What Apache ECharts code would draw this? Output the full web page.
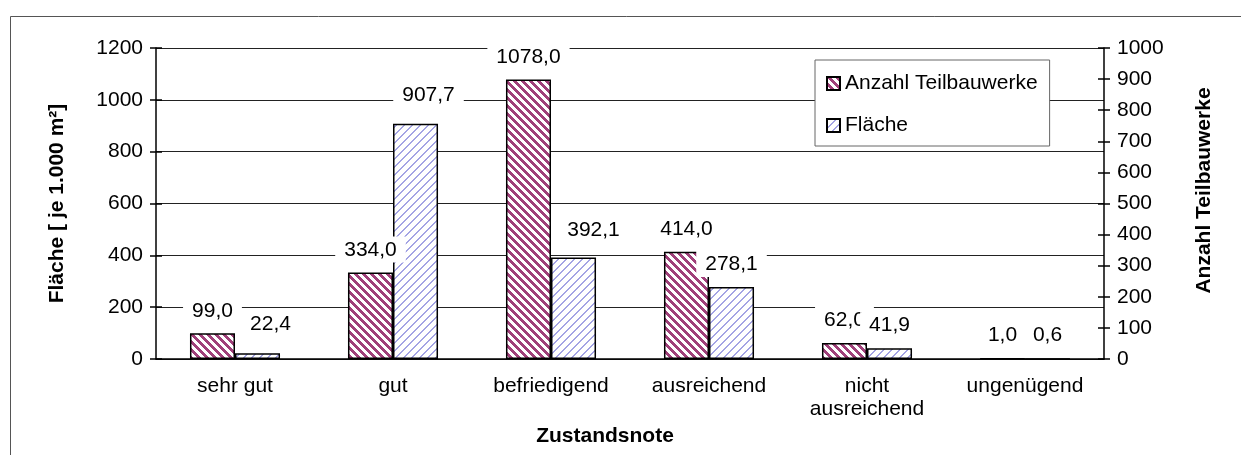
<!DOCTYPE html>
<html>
<head>
<meta charset="utf-8">
<script src="https://cdn.jsdelivr.net/npm/echarts@6/dist/echarts.min.js"></script>
<style>
  html, body { margin: 0; padding: 0; background: #fff; }
  #chart { width: 1241px; height: 455px; }
</style>
</head>
<body>
<div id="chart"></div>
<script>
// data
const categories = ['sehr gut', 'gut', 'befriedigend', 'ausreichend', 'nicht\nausreichend', 'ungenügend'];
const anzahl = [99.0, 334.0, 1078.0, 414.0, 62.0, 1.0];
const flaeche = [22.4, 907.7, 392.1, 278.1, 41.9, 0.6];
const leftTicks = { min: 0, max: 1200, interval: 200 };
const rightTicks = { min: 0, max: 1000, interval: 100 };

const FONT = '"Liberation Sans", Arial, sans-serif';
const FS = 21;

// diagonal hatch fill, drawn pixel by pixel so it stays crisp
function hatch(color, dir, on) {
  const c = document.createElement('canvas');
  c.width = 8; c.height = 8;
  const ctx = c.getContext('2d');
  const img = ctx.createImageData(8, 8);
  const rgb = [parseInt(color.slice(1, 3), 16), parseInt(color.slice(3, 5), 16), parseInt(color.slice(5, 7), 16)];
  for (let y = 0; y < 8; y++) {
    for (let x = 0; x < 8; x++) {
      const k = dir > 0 ? (x + y) % 8 : ((x - y) % 8 + 8) % 8;
      const p = (y * 8 + x) * 4;
      const col = k < on ? rgb : [255, 255, 255];
      img.data[p] = col[0]; img.data[p + 1] = col[1]; img.data[p + 2] = col[2]; img.data[p + 3] = 255;
    }
  }
  ctx.putImageData(img, 0, 0);
  return { image: c, repeat: 'repeat' };
}

const fmt = v => v.toFixed(1).replace('.', ',');

// a few labels were nudged aside in the original to avoid overlaps
const flaecheShift = { 0: [13, -6], 1: [13, -6], 2: [20, -5] };

const labelBase = {
  show: true,
  position: 'top',
  distance: 10,
  color: '#000',
  fontFamily: FONT,
  fontSize: FS,
  backgroundColor: '#fff',
  padding: [3, 9, 2, 9],
  formatter: p => fmt(p.value),
};

const tickStyle = { color: '#000', width: 1.5 };
const axisText = { fontFamily: FONT, fontSize: FS, color: '#000', margin: 13, formatter: v => String(v) };
const nameText = { fontFamily: FONT, fontSize: FS, fontWeight: 'bold', color: '#000' };

const chart = echarts.init(document.getElementById('chart'));

chart.setOption({
  backgroundColor: '#fff',
  animation: false,
  textStyle: { fontFamily: FONT },
  graphic: [{
    type: 'rect',
    left: 8, top: 14,
    shape: { width: 1300, height: 500 },
    style: { fill: 'none', stroke: '#555', lineWidth: 1 },
    silent: true,
  }],
  legend: {
    orient: 'vertical',
    left: 815, top: 60,
    backgroundColor: '#fff',
    borderColor: '#666',
    borderWidth: 1,
    padding: [13, 12, 10, 11],
    itemGap: 21,
    itemWidth: 13, itemHeight: 13,
    icon: 'rect',
    textStyle: { fontFamily: FONT, fontSize: FS, color: '#000' },
    data: ['Anzahl Teilbauwerke', 'Fläche'],
  },
  grid: { left: 156, right: 137, top: 48, bottom: 96 },
  xAxis: [{
    type: 'category',
    data: categories,
    name: 'Zustandsnote',
    nameLocation: 'middle',
    nameGap: 64,
    nameTextStyle: { ...nameText, padding: [0, 50, 0, 0] },
    axisLine: { lineStyle: tickStyle },
    axisTick: { length: 6, lineStyle: tickStyle },
    axisLabel: { fontFamily: FONT, fontSize: FS, color: '#000', margin: 16, lineHeight: 23 },
  }, {
    type: 'category',
    data: categories,
    position: 'bottom',
    axisLine: { show: false },
    axisTick: { inside: true, length: 6, lineStyle: tickStyle },
    axisLabel: { show: false },
  }],
  yAxis: [{
    type: 'value',
    ...leftTicks,
    name: 'Fläche [ je 1.000 m²]',
    nameLocation: 'middle',
    nameGap: 88,
    nameTextStyle: nameText,
    axisLine: { show: true, lineStyle: tickStyle },
    axisTick: { show: true, length: 6, lineStyle: tickStyle },
    axisLabel: axisText,
    splitLine: { lineStyle: { color: '#222', width: 1 } },
  }, {
    type: 'value',
    ...rightTicks,
    position: 'right',
    name: 'Anzahl Teilbauwerke',
    nameLocation: 'middle',
    nameRotate: 90,
    nameGap: 90,
    nameTextStyle: { ...nameText, padding: [0, 0, 0, 26] },
    axisLine: { show: true, lineStyle: tickStyle },
    axisTick: { show: true, length: 6, lineStyle: tickStyle },
    axisLabel: axisText,
    splitLine: { show: false },
  }, {
    type: 'value',
    ...leftTicks,
    position: 'left',
    axisLine: { show: false },
    axisTick: { show: true, inside: true, length: 6, lineStyle: tickStyle },
    axisLabel: { show: false },
    splitLine: { show: false },
  }, {
    type: 'value',
    ...rightTicks,
    position: 'right',
    axisLine: { show: false },
    axisTick: { show: true, inside: true, length: 6, lineStyle: tickStyle },
    axisLabel: { show: false },
    splitLine: { show: false },
  }],
  series: [{
    name: 'Anzahl Teilbauwerke',
    type: 'bar',
    xAxisIndex: 0,
    yAxisIndex: 0,
    data: anzahl,
    barGap: '0%',
    barCategoryGap: '43%',
    itemStyle: { color: hatch('#a0407a', -1, 4), borderColor: '#000', borderWidth: 1.5 },
    label: labelBase,
  }, {
    name: 'Fläche',
    type: 'bar',
    xAxisIndex: 0,
    yAxisIndex: 0,
    data: flaeche.map((v, i) => flaecheShift[i]
      ? { value: v, label: { offset: flaecheShift[i] } }
      : v),
    itemStyle: { color: hatch('#a4a4e4', 1, 2), borderColor: '#000', borderWidth: 1.5 },
    label: labelBase,
  }],
});
</script>
</body>
</html>
